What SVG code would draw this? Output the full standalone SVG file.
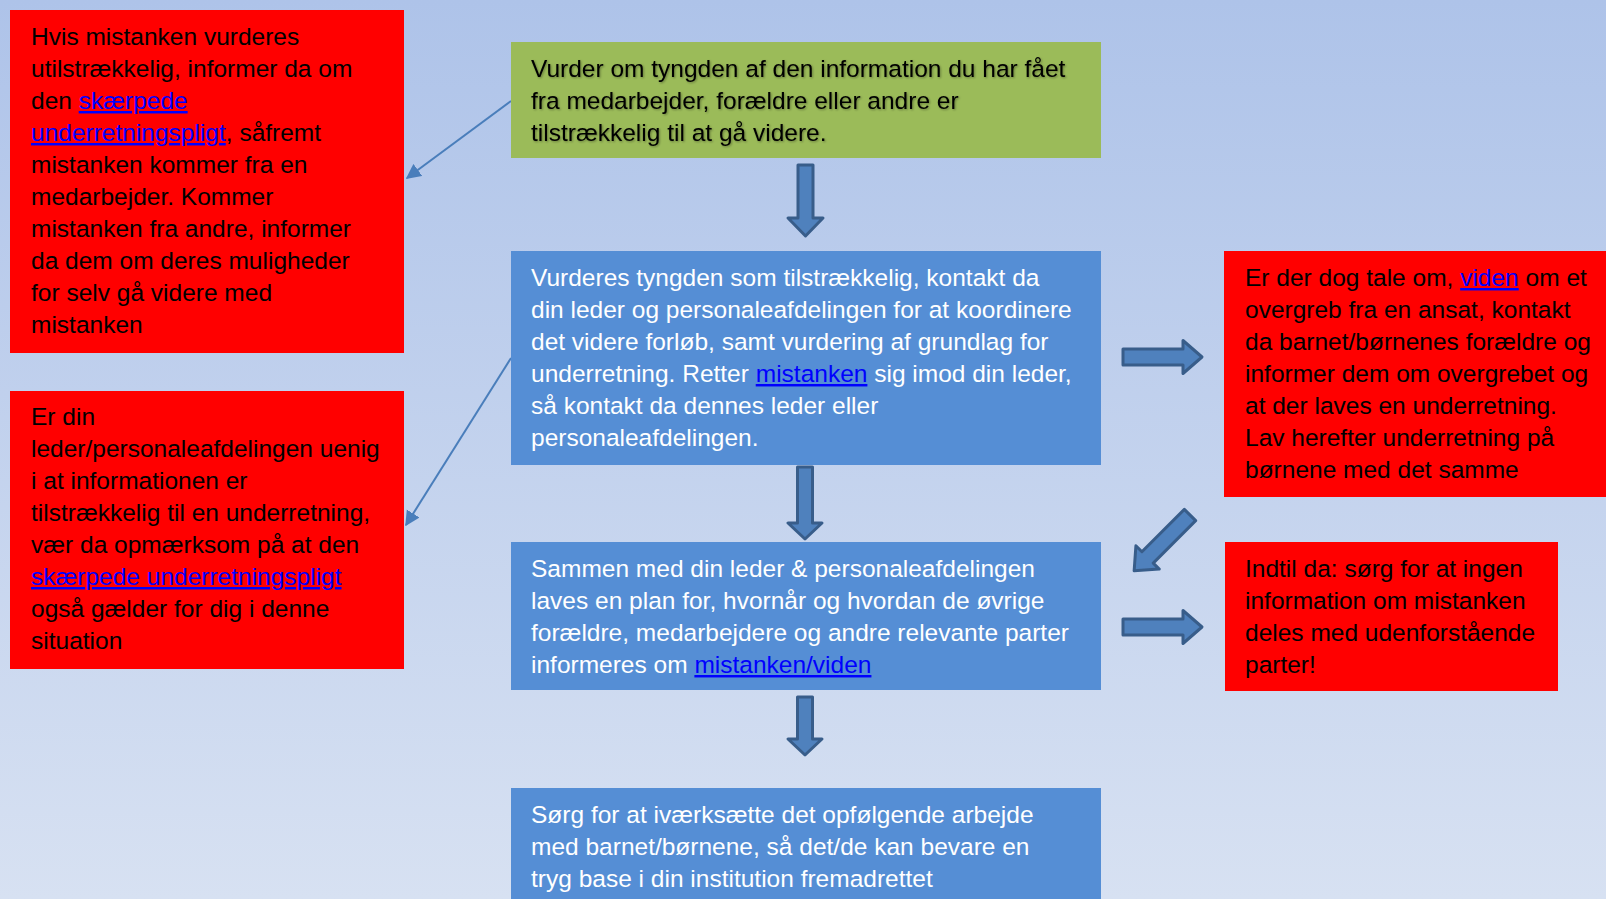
<svg xmlns="http://www.w3.org/2000/svg" width="1606" height="899" viewBox="0 0 1606 899">
<defs>
<linearGradient id="bg" x1="0" y1="0" x2="0" y2="1">
<stop offset="0" stop-color="#aec3e9"/>
<stop offset="1" stop-color="#d7e1f2"/>
</linearGradient>
<marker id="tri" viewBox="0 0 10 10" refX="9" refY="5" markerWidth="7.5" markerHeight="8" orient="auto" markerUnits="strokeWidth">
<path d="M0,0 L10,5 L0,10 Z" fill="#4a7ebb"/>
</marker>
<path id="blk" d="M0,-8 H60 V-16.5 L79,0 L60,16.5 V8 H0 Z"/>
<filter id="sh" x="-5%" y="-20%" width="110%" height="140%">
<feDropShadow dx="1" dy="1" stdDeviation="1" flood-color="#000" flood-opacity="0.35"/>
</filter>
</defs>
<style>
text{font-family:"Liberation Sans",Arial,sans-serif;font-size:24.5px}
.dk{fill:#000}
.wt{fill:#fff}
.lk{fill:#0000ff;text-decoration:underline}
.red{fill:#ff0000}
.blue{fill:#558ed5}
.green{fill:#9bbb59}
.ba{fill:#4f81bd;stroke:#385d8a;stroke-width:3;stroke-linejoin:round}
.thin{stroke:#4a7ebb;stroke-width:2;fill:none}
</style>
<rect width="1606" height="899" fill="url(#bg)"/>

<g id="connectors">
<line class="thin" x1="511" y1="101" x2="407" y2="178" marker-end="url(#tri)"/>
<line class="thin" x1="511" y1="358" x2="406" y2="525" marker-end="url(#tri)"/>
<path class="ba" d="M798,165 H813 V218 H823 L805.5,236 L788,218 H798 Z"/>
<path class="ba" d="M797.5,467 H812.5 V523 H822 L805,539 L788,523 H797.5 Z"/>
<path class="ba" d="M797.5,697 H812.5 V739 H822 L805,755 L788,739 H797.5 Z"/>
<use href="#blk" class="ba" transform="translate(1123,357)"/>
<use href="#blk" class="ba" transform="translate(1123,627)"/>
<use href="#blk" class="ba" transform="translate(1190,515) rotate(135)"/>
</g>

<g id="node-green">
<rect class="green" x="511" y="42" width="590" height="116"/>
<g class="dk" filter="url(#sh)">
<text x="531" y="77">Vurder om tyngden af den information du har fået</text>
<text x="531" y="109">fra medarbejder, forældre eller andre er</text>
<text x="531" y="141">tilstrækkelig til at gå videre.</text>
</g>
</g>

<g id="node-blue1">
<rect class="blue" x="511" y="251" width="590" height="214"/>
<g class="wt">
<text x="531" y="286">Vurderes tyngden som tilstrækkelig, kontakt da</text>
<text x="531" y="318">din leder og personaleafdelingen for at koordinere</text>
<text x="531" y="350">det videre forløb, samt vurdering af grundlag for</text>
<text x="531" y="382">underretning. Retter <tspan class="lk">mistanken</tspan> sig imod din leder,</text>
<text x="531" y="414">så kontakt da dennes leder eller</text>
<text x="531" y="446">personaleafdelingen.</text>
</g>
</g>

<g id="node-blue2">
<rect class="blue" x="511" y="542" width="590" height="148"/>
<g class="wt">
<text x="531" y="577">Sammen med din leder &amp; personaleafdelingen</text>
<text x="531" y="609">laves en plan for, hvornår og hvordan de øvrige</text>
<text x="531" y="641">forældre, medarbejdere og andre relevante parter</text>
<text x="531" y="673">informeres om <tspan class="lk">mistanken/viden</tspan></text>
</g>
</g>

<g id="node-blue3">
<rect class="blue" x="511" y="788" width="590" height="120"/>
<g class="wt">
<text x="531" y="823">Sørg for at iværksætte det opfølgende arbejde</text>
<text x="531" y="855">med barnet/børnene, så det/de kan bevare en</text>
<text x="531" y="887">tryg base i din institution fremadrettet</text>
</g>
</g>

<g id="node-red-left1">
<rect class="red" x="10" y="10" width="394" height="343"/>
<g class="dk">
<text x="31" y="45">Hvis mistanken vurderes</text>
<text x="31" y="77">utilstrækkelig, informer da om</text>
<text x="31" y="109">den <tspan class="lk">skærpede</tspan></text>
<text x="31" y="141"><tspan class="lk">underretningspligt</tspan>, såfremt</text>
<text x="31" y="173">mistanken kommer fra en</text>
<text x="31" y="205">medarbejder. Kommer</text>
<text x="31" y="237">mistanken fra andre, informer</text>
<text x="31" y="269">da dem om deres muligheder</text>
<text x="31" y="301">for selv gå videre med</text>
<text x="31" y="333">mistanken</text>
</g>
</g>

<g id="node-red-left2">
<rect class="red" x="10" y="391" width="394" height="278"/>
<g class="dk">
<text x="31" y="425">Er din</text>
<text x="31" y="457">leder/personaleafdelingen uenig</text>
<text x="31" y="489">i at informationen er</text>
<text x="31" y="521">tilstrækkelig til en underretning,</text>
<text x="31" y="553">vær da opmærksom på at den</text>
<text x="31" y="585"><tspan class="lk">skærpede underretningspligt</tspan></text>
<text x="31" y="617">også gælder for dig i denne</text>
<text x="31" y="649">situation</text>
</g>
</g>

<g id="node-red-right1">
<rect class="red" x="1224" y="251" width="382" height="246"/>
<g class="dk">
<text x="1245" y="286">Er der dog tale om, <tspan class="lk">viden</tspan> om et</text>
<text x="1245" y="318">overgreb fra en ansat, kontakt</text>
<text x="1245" y="350">da barnet/børnenes forældre og</text>
<text x="1245" y="382">informer dem om overgrebet og</text>
<text x="1245" y="414">at der laves en underretning.</text>
<text x="1245" y="446">Lav herefter underretning på</text>
<text x="1245" y="478">børnene med det samme</text>
</g>
</g>

<g id="node-red-right2">
<rect class="red" x="1225" y="542" width="333" height="149"/>
<g class="dk">
<text x="1245" y="577">Indtil da: sørg for at ingen</text>
<text x="1245" y="609">information om mistanken</text>
<text x="1245" y="641">deles med udenforstående</text>
<text x="1245" y="673">parter!</text>
</g>
</g>
</svg>
